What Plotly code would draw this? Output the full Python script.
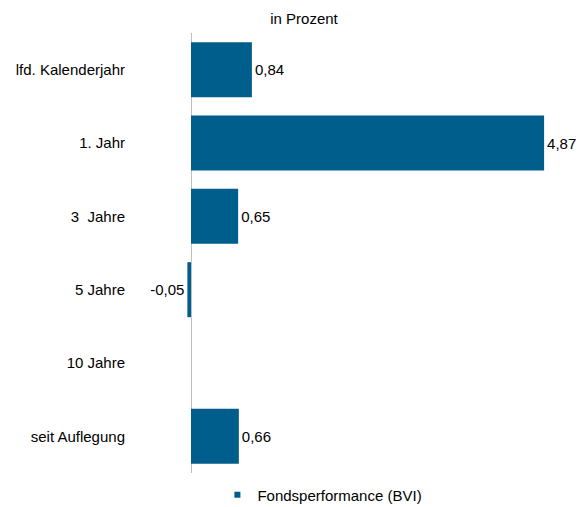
import plotly.graph_objects as go

categories = ["lfd. Kalenderjahr", "1. Jahr", "3  Jahre", "5 Jahre", "10 Jahre", "seit Auflegung"]
values = [0.84, 4.87, 0.65, -0.05, None, 0.66]
series_name = "Fondsperformance (BVI)"
title_text = "in Prozent"

bar_color = "#005E8C"
font_family = "Liberation Sans, Arial, sans-serif"

W, H = 576, 499  # page body has an 8px margin

fig = go.Figure()
fig.add_trace(go.Bar(
    y=categories,
    x=values,
    orientation="h",
    marker=dict(color=bar_color, line=dict(width=0)),
    text=[("" if v is None else f"{v:.2f}".replace(".", ",")) for v in values],
    textposition="outside",
    textfont=dict(size=15, color="#000000", family=font_family),
    cliponaxis=False,
    showlegend=False,
    hoverinfo="skip",
))
fig.add_trace(go.Scatter(
    x=[None], y=[None], mode="markers",
    marker=dict(symbol="square", size=6, color=bar_color),
    name=series_name, showlegend=True,
))

fig.update_layout(
    width=W, height=H,
    margin=dict(l=164, r=3, t=25, b=34, autoexpand=False),
    paper_bgcolor="white", plot_bgcolor="white",
    font=dict(family=font_family, size=15, color="#000000"),
    bargap=0.25,
    title=dict(text=title_text, x=296 / W, xanchor="center", y=1 - 11 / H, yanchor="middle",
               font=dict(size=15, color="#000000")),
    xaxis=dict(range=[-0.262, 5.379], showgrid=False, showticklabels=False, ticks="",
               zeroline=True, zerolinecolor="#BFBFBF", zerolinewidth=1, showline=False),
    yaxis=dict(categoryorder="array", categoryarray=categories, autorange="reversed",
               showgrid=False, ticks="", showline=False, ticklabelstandoff=46,
               tickfont=dict(size=15, color="#000000")),
    legend=dict(orientation="h", x=0.111, xanchor="left", y=-0.05, yanchor="middle",
                font=dict(size=15, color="#000000"), bgcolor="rgba(0,0,0,0)"),
)

fig.write_html("out.html")
